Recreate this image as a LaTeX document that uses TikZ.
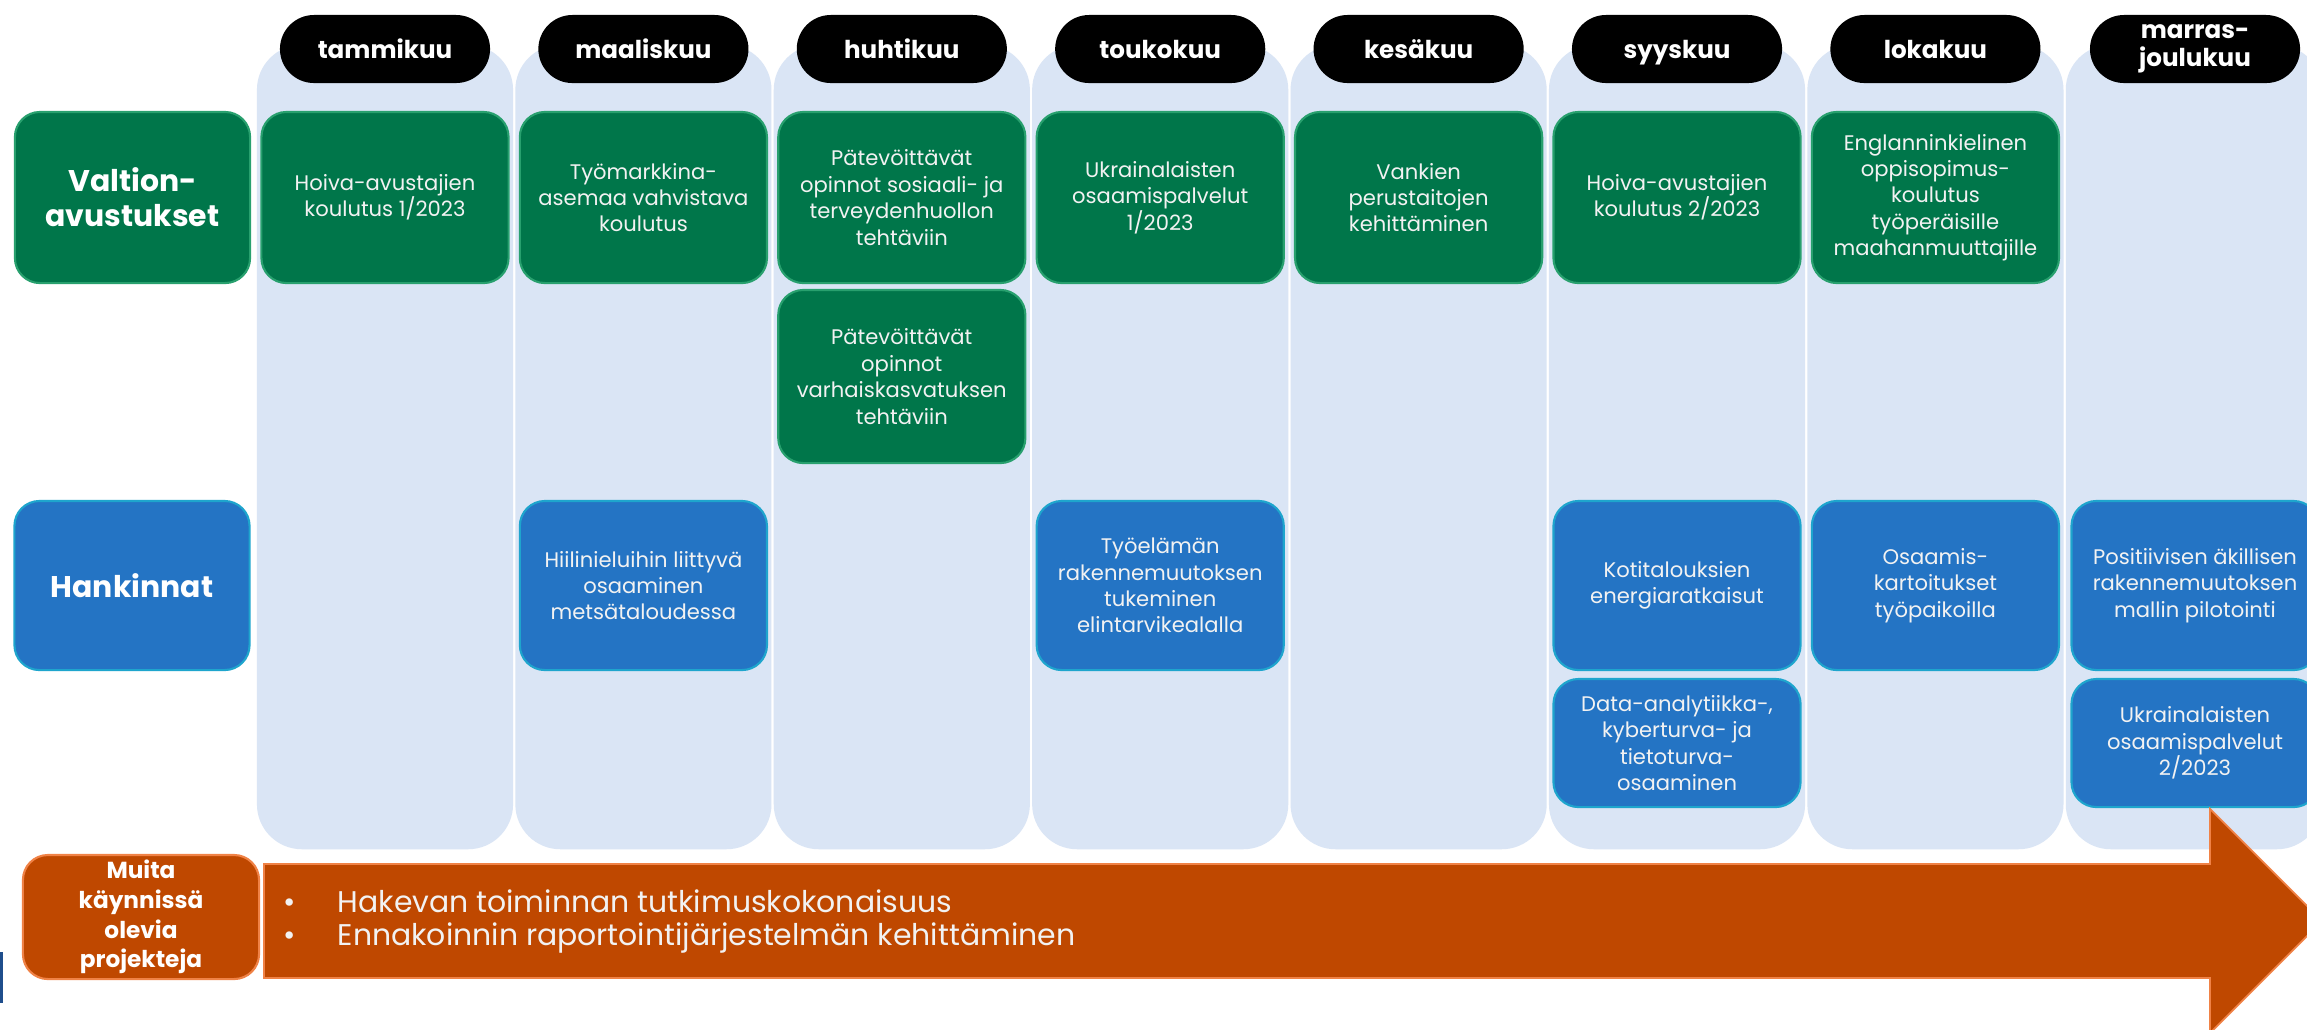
\documentclass[tikz,border=0pt]{standalone}
\usepackage{fontspec}
\setmainfont{Poppins}
\definecolor{colbg}{RGB}{218,229,245}
\definecolor{vgreen}{RGB}{0,118,74}
\definecolor{vgreenline}{RGB}{40,160,110}
\definecolor{hblue}{RGB}{36,116,196}
\definecolor{hblueline}{RGB}{30,165,205}
\definecolor{morange}{RGB}{191,72,0}
\definecolor{morangeline}{RGB}{240,130,70}
\definecolor{txtc}{RGB}{242,242,242}
\definecolor{darkbar}{RGB}{31,78,140}
\begin{document}
\begin{tikzpicture}[x=0.01cm,y=-0.01cm,
  colbox/.style={fill=colbg, draw=none, rounded corners=0.45cm, minimum width=2.56cm, minimum height=8.04cm, inner sep=0pt},
  pill/.style={fill=black, text=white, rounded corners=0.34cm, minimum width=2.1cm, minimum height=0.68cm, inner sep=0pt, align=center, font=\bfseries\fontsize{7}{8}\selectfont},
  pillone/.style={pill, text height=1.45ex, text depth=0.45ex},
  evbox/.style={rounded corners=0.25cm, minimum width=2.47cm, inner sep=0pt, align=center, text=txtc, font=\fontsize{6}{7.5}\selectfont, line width=0.6pt},
  greenbox/.style={evbox, fill=vgreen, draw=vgreenline},
  bluebox/.style={evbox, fill=hblue, draw=hblueline},
  rowlabel/.style={rounded corners=0.25cm, minimum width=2.35cm, inner sep=0pt, align=center, text=white, line width=0.6pt, font=\bfseries\fontsize{8.5}{10}\selectfont},
  hA/.style={minimum height=1.71cm},
  hB/.style={minimum height=1.73cm},
  hC/.style={minimum height=1.69cm},
  hD/.style={minimum height=1.28cm}
]
\clip (0,0) rectangle (2307,1029);
\fill[white] (0,0) rectangle (2307,1029);

% month columns
\node[colbox] (c1) at (385,447) {};
\node[colbox] (c2) at (643.4,447) {};
\node[colbox] (c3) at (901.8,447) {};
\node[colbox] (c4) at (1160.2,447) {};
\node[colbox] (c5) at (1418.6,447) {};
\node[colbox] (c6) at (1677,447) {};
\node[colbox] (c7) at (1935.4,447) {};
\node[colbox] (c8) at (2193.8,447) {};

% month pills
\node[pillone] (m1) at (385,49) {tammikuu};
\node[pillone] (m2) at (643.4,49) {maaliskuu};
\node[pillone] (m3) at (901.8,49) {huhtikuu};
\node[pillone] (m4) at (1160.2,49) {toukokuu};
\node[pillone] (m5) at (1418.6,49) {kesäkuu};
\node[pillone] (m6) at (1677,49) {syyskuu};
\node[pillone] (m7) at (1935.4,49) {lokakuu};
\node[pill] (m8) at (2195,49) {marras-\\joulukuu};

% row labels
\node[rowlabel, hA, fill=vgreen, draw=vgreenline] (lv) at (132.5,197.5) {Valtion-\\avustukset};
\node[rowlabel, hC, fill=hblue, draw=hblueline] (lh) at (132,585.5) {Hankinnat};

% valtionavustukset
\node[greenbox, hA] (v1) at (385,197.5) {Hoiva-avustajien\\koulutus 1/2023};
\node[greenbox, hA] (v2) at (643.4,197.5) {Työmarkkina-\\asemaa vahvistava\\koulutus};
\node[greenbox, hA] (v3) at (901.8,197.5) {Pätevöittävät\\opinnot sosiaali- ja\\terveydenhuollon\\tehtäviin};
\node[greenbox, hB] (v3b) at (901.8,376.5) {Pätevöittävät\\opinnot\\varhaiskasvatuksen\\tehtäviin};
\node[greenbox, hA] (v4) at (1160.2,197.5) {Ukrainalaisten\\osaamispalvelut\\1/2023};
\node[greenbox, hA] (v5) at (1418.6,197.5) {Vankien\\perustaitojen\\kehittäminen};
\node[greenbox, hA] (v6) at (1677,197.5) {Hoiva-avustajien\\koulutus 2/2023};
\node[greenbox, hA] (v7) at (1935.4,197.5) {Englanninkielinen\\oppisopimus-\\koulutus\\työperäisille\\maahanmuuttajille};

% hankinnat
\node[bluebox, hC] (h2) at (643.4,585.5) {Hiilinieluihin liittyvä\\osaaminen\\metsätaloudessa};
\node[bluebox, hC] (h4) at (1160.2,585.5) {Työelämän\\rakennemuutoksen\\tukeminen\\elintarvikealalla};
\node[bluebox, hC] (h6) at (1677,585.5) {Kotitalouksien\\energiaratkaisut};
\node[bluebox, hD] (h6b) at (1677,743) {Data-analytiikka-,\\kyberturva- ja\\tietoturva-\\osaaminen};
\node[bluebox, hC] (h7) at (1935.4,585.5) {Osaamis-\\kartoitukset\\työpaikoilla};
\node[bluebox, hC] (h8) at (2195,585.5) {Positiivisen äkillisen\\rakennemuutoksen\\mallin pilotointi};
\node[bluebox, hD] (h8b) at (2195,743) {Ukrainalaisten\\osaamispalvelut\\2/2023};

% other ongoing projects
\fill[morange, draw=morangeline, line width=0.5pt]
  (264,864) -- (2210,864) -- (2210,809) -- (2322,921) -- (2210,1033) -- (2210,978) -- (264,978) -- cycle;
\node[rounded corners=0.25cm, minimum width=2.36cm, minimum height=1.24cm, inner sep=0pt, align=center,
  fill=morange, draw=morangeline, line width=0.6pt, text=white, font=\bfseries\fontsize{6.6}{8.4}\selectfont]
  (lm) at (141,917) {Muita\\käynnissä\\olevia\\projekteja};
\node[anchor=west, align=left, inner sep=0pt, text=txtc, font=\fontsize{8.5}{9.5}\selectfont] (bl) at (283,921.5)
  {\makebox[0.54cm][l]{\textbullet}Hakevan toiminnan tutkimuskokonaisuus\\
   \makebox[0.54cm][l]{\textbullet}Ennakoinnin raportointijärjestelmän kehittäminen};

\fill[darkbar] (0,952) rectangle (3,1003);
\end{tikzpicture}
\end{document}
